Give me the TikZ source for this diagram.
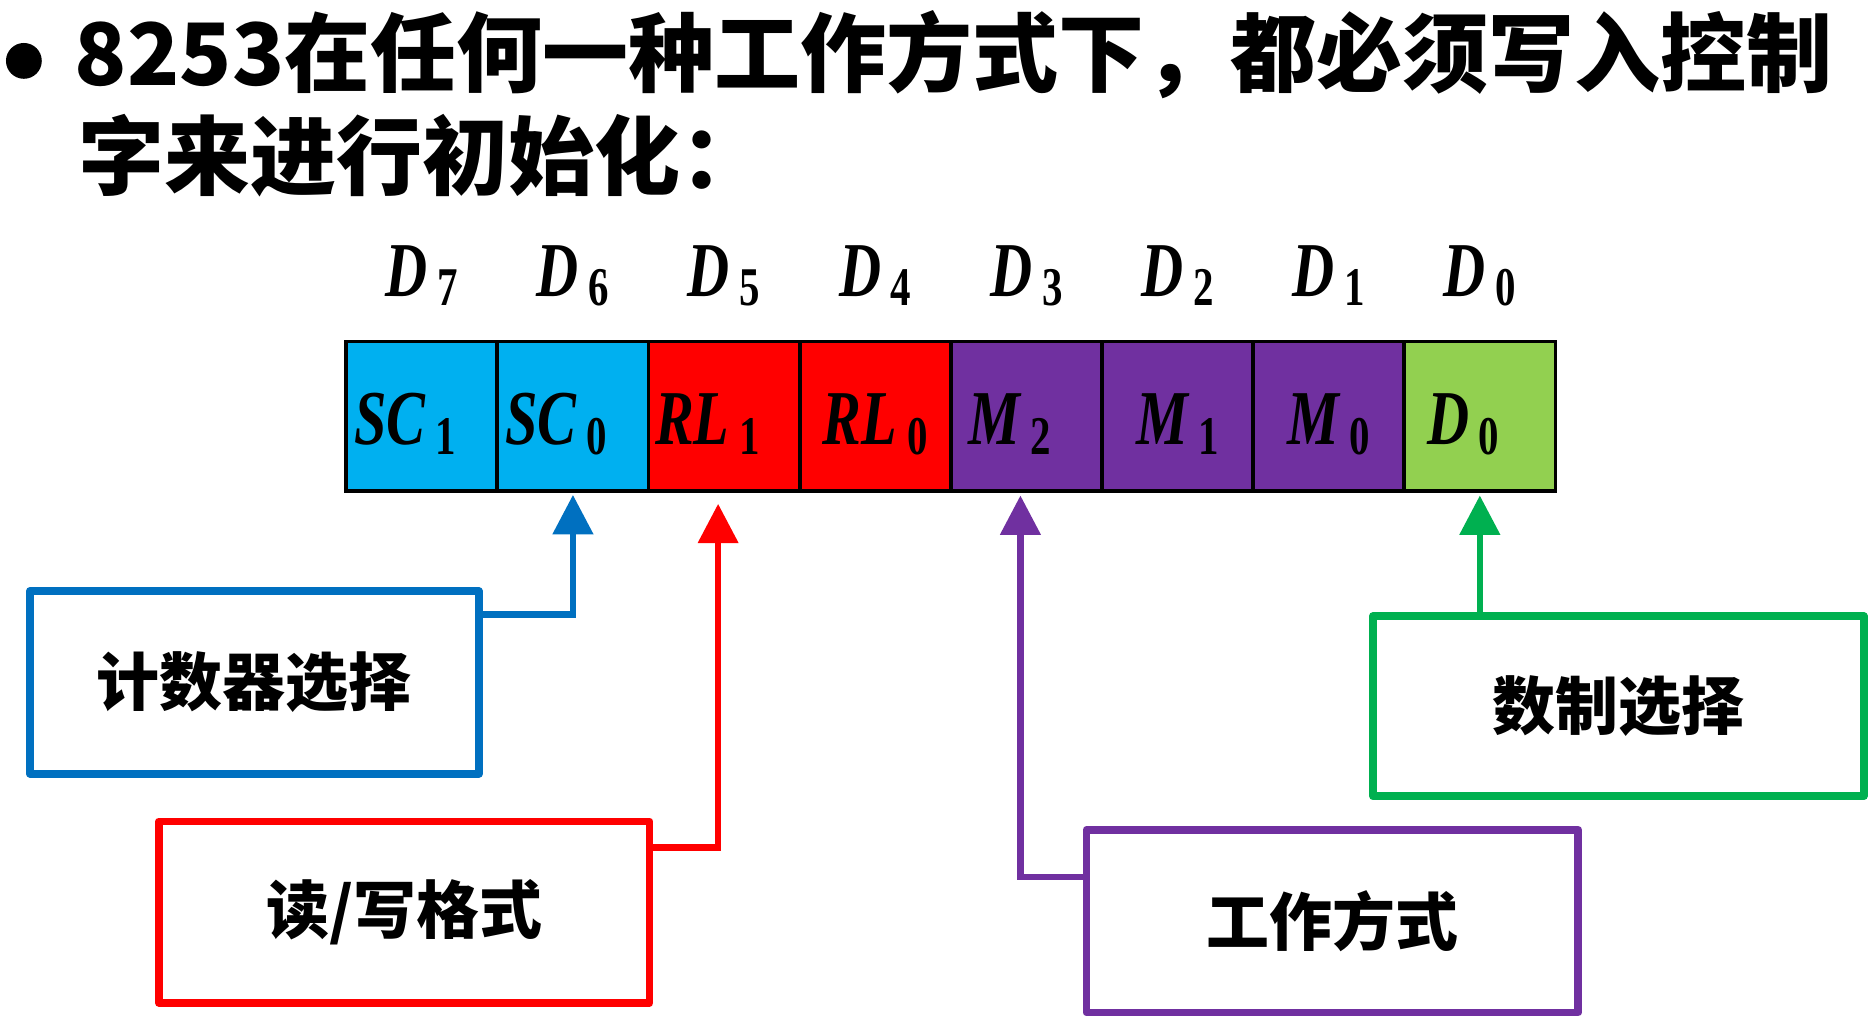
\documentclass[tikz,border=0pt]{standalone}
\usepackage{fontspec}
\newfontfamily\cjk{Noto Sans CJK SC}
\newfontfamily\bitfont{Liberation Serif}
\usepackage{tikz}
\usetikzlibrary{arrows.meta,positioning,calc}

\definecolor{sccyan}{HTML}{00B0F0}
\definecolor{rlred}{HTML}{FF0000}
\definecolor{mpurple}{HTML}{7030A0}
\definecolor{dgreen}{HTML}{92D050}
\definecolor{boxblue}{HTML}{0070C0}
\definecolor{boxgreen}{HTML}{00B050}

% bold italic name with a lowered digit, squeezed like the slide font
\newcommand{\bitname}[2]{\scalebox{0.75}[1]{{\bitfont\bfseries\itshape #1}\,\raisebox{-0.08cm}{\bitfont\bfseries\fontsize{13}{15}\selectfont #2}}}
% same, set a little left of the cell centre
\newcommand{\leftbit}[2]{\bitname{#1}{#2}\kern0.28cm}

\begin{document}
\begin{tikzpicture}[
    title/.style={anchor=west, inner sep=0pt, font=\cjk\bfseries\fontsize{20.5}{24}\selectfont},
    bitcell/.style={draw=black, line width=0.9pt, minimum width=1.266cm, minimum height=1.25cm, inner sep=0pt, outer sep=0pt, text height=0.6cm, text depth=0.12cm, font=\fontsize{18.5}{22}\selectfont},
    bitno/.style={inner sep=0pt, font=\fontsize{18.5}{22}\selectfont},
    fieldbox/.style={draw, line width=1.85pt, line join=round, fill=white, font=\cjk\bfseries\fontsize{15}{18}\selectfont},
    link/.style={line width=1.55pt, -{Triangle[width=0.33cm, length=0.33cm]}}
]
    \useasboundingbox (0,0) rectangle (15.68,8.62);

    % heading
    \node[circle, fill=black, minimum size=0.3cm, inner sep=0pt] (dot) at (0.2, 8.11) {};
    \node[title] (line1) at (0.62, 8.16) {8253在任何一种工作方式下，都必须写入控制};
    \node[title] (line2) at (0.65, 7.32) {字来进行初始化：};

    % control word register
    \node[bitcell, fill=sccyan] (c7) at (3.533, 5.135) {\leftbit{SC}{1}};
    \node[bitcell, fill=sccyan, right=0pt of c7] (c6) {\leftbit{SC}{0}};
    \node[bitcell, fill=rlred, right=0pt of c6] (c5) {\leftbit{RL}{1}};
    \node[bitcell, fill=rlred, right=0pt of c5] (c4) {\bitname{RL}{0}};
    \node[bitcell, fill=mpurple, right=0pt of c4] (c3) {\leftbit{M}{2}};
    \node[bitcell, fill=mpurple, right=0pt of c3] (c2) {\bitname{M}{1}};
    \node[bitcell, fill=mpurple, right=0pt of c2] (c1) {\bitname{M}{0}};
    \node[bitcell, fill=dgreen, right=0pt of c1] (c0) {\leftbit{D}{0}};

    % bit numbers
    \node[bitno] (n7) at ([yshift=0.55cm]c7.north) {\bitname{D}{7}};
    \node[bitno] (n6) at ([yshift=0.55cm]c6.north) {\bitname{D}{6}};
    \node[bitno] (n5) at ([yshift=0.55cm]c5.north) {\bitname{D}{5}};
    \node[bitno] (n4) at ([yshift=0.55cm]c4.north) {\bitname{D}{4}};
    \node[bitno] (n3) at ([yshift=0.55cm]c3.north) {\bitname{D}{3}};
    \node[bitno] (n2) at ([yshift=0.55cm]c2.north) {\bitname{D}{2}};
    \node[bitno] (n1) at ([yshift=0.55cm]c1.north) {\bitname{D}{1}};
    \node[bitno] (n0) at ([yshift=0.55cm]c0.north) {\bitname{D}{0}};

    % field boxes
    \node[fieldbox, draw=boxblue, minimum width=3.76cm, minimum height=1.53cm] (cnt) at (2.13, 2.905) {计数器选择};
    \node[fieldbox, draw=rlred, minimum width=4.11cm, minimum height=1.52cm] (rw) at (3.385, 0.98) {读/写格式};
    \node[fieldbox, draw=mpurple, minimum width=4.12cm, minimum height=1.53cm] (mode) at (11.16, 0.905) {工作方式};
    \node[fieldbox, draw=boxgreen, minimum width=4.11cm, minimum height=1.51cm] (fmt) at (13.555, 2.705) {数制选择};

    % pointers
    \draw[link, boxblue, shorten >=1pt] ([yshift=-0.23cm]cnt.north east) -| (c6.south);
    \draw[link, rlred, shorten >=0.11cm] ([yshift=-0.25cm]rw.north east) -| ([xshift=-0.05cm]c5.south);
    \draw[link, mpurple, shorten >=0.04cm] ([yshift=-0.43cm]mode.north west) -| ([xshift=-0.05cm]c3.south);
    \draw[link, boxgreen, shorten >=0.04cm] (c0.south |- fmt.north) -- (c0.south);
\end{tikzpicture}
\end{document}
